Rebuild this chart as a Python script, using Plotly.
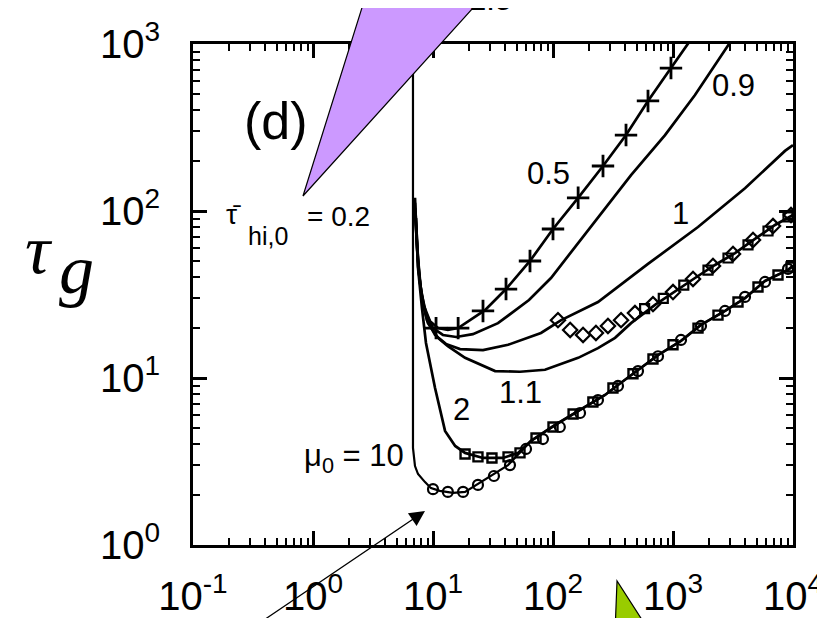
import plotly.graph_objects as go

# ---------------- data ----------------
# tau_hi,0 = 0.5 curve and its "+" markers
c05_x = [7.08, 7.36, 7.79, 8.41, 9.44, 11.0, 13.3, 16.2, 27.1, 40.6, 64.3, 100, 162, 261, 406, 619, 962, 1334, 1650]
c05_y = [120, 60.0, 37.1, 27.0, 21.9, 19.9, 19.4, 19.9, 25.5, 34.1, 50.2, 78.0, 120, 186, 285, 456, 718, 1000, 1250]
m05_x = [10.6, 16.2, 26.1, 40.6, 64.3, 100, 162, 261, 406, 619, 962]
m05_y = [19.9, 19.9, 25.2, 34.1, 50.2, 78.0, 120, 186, 285, 456, 718]

# 0.9 curve
c09_x = [7.08, 7.50, 7.94, 8.74, 10.0, 12.1, 15.6, 21.5, 34.8, 63.1, 96.2, 126, 237, 447, 858, 1525, 2929, 3831]
c09_y = [112, 52.3, 33.2, 24.5, 19.9, 18.1, 17.6, 18.3, 21.3, 29.3, 39.7, 50.9, 90.8, 164, 285, 495, 1000, 1282]

# 1 curve
c1_x = [7.08, 7.50, 8.09, 8.91, 10.4, 12.8, 16.8, 26.1, 42.2, 79.4, 117, 237, 619, 1616, 3981, 8577, 10000]
c1_y = [104, 46.9, 30.1, 22.2, 18.1, 16.0, 14.9, 14.7, 15.8, 18.6, 22.2, 28.5, 48.2, 80.2, 137, 229, 248]

# 1.1 curve
c11_x = [7.08, 7.64, 8.25, 9.08, 11.0, 13.3, 18.5, 32.9, 53.1, 85.8, 162, 237, 329, 447, 708, 1040, 1525, 2239, 3286, 4823, 7079, 10000]
c11_y = [97.3, 42.5, 27.4, 21.3, 17.4, 15.5, 13.2, 11.0, 10.9, 11.2, 13.2, 15.1, 17.4, 21.3, 27.4, 33.2, 39.7, 47.5, 56.0, 68.0, 82.5, 94.6]
# diamond markers and squares on the 1.1 band
md_x = [110, 139, 178, 228, 287, 369, 482, 681, 1000, 1468, 2154, 3162, 4642, 6813, 9624]
md_y = [22.2, 19.4, 18.1, 18.6, 20.5, 22.2, 24.5, 27.7, 32.7, 39.2, 46.9, 55.3, 67.1, 81.3, 94.6]
ms11_x = [580, 830, 1230, 1957, 2873, 4217, 6190, 9086]
ms11_y = [26.0, 30.0, 36.0, 44.3, 52.3, 62.6, 75.9, 92.1]

# 2 curve and squares
c2_x = [7.22, 7.50, 8.09, 8.74, 10.4, 12.6, 15.3, 18.5, 26.1, 38.3, 51.1, 65.6, 104, 162, 271, 348, 511, 750, 1166, 1711, 2712, 3981, 5843, 9086, 10000]
c2_y = [90.8, 45.6, 26.3, 16.2, 8.71, 4.82, 3.92, 3.56, 3.32, 3.32, 3.56, 4.20, 5.23, 6.34, 7.91, 9.08, 11.2, 13.7, 16.7, 20.8, 25.2, 30.1, 38.1, 44.4, 46.9]
ms2_x = [18.5, 23.7, 31.0, 42.2, 53.1, 72.2, 100, 147, 215, 316, 464, 681, 1000, 1616, 2371, 3481, 5109, 7499, 9624]
ms2_y = [3.51, 3.37, 3.32, 3.37, 3.56, 4.37, 5.09, 6.09, 7.18, 8.71, 10.6, 13.0, 15.8, 19.9, 23.8, 28.5, 35.1, 41.4, 46.2]

# mu_0 = 10 curve and circles
c10_x = [6.81, 6.81, 6.81, 7.08, 7.50, 8.58, 9.62, 11.4, 14.7, 18.5, 25.1, 42.2, 65.6, 104, 162, 271, 348, 511, 750, 1166, 1711, 2712, 3981, 5843, 9086, 10000]
c10_y = [1250, 1000, 3.81, 2.97, 2.66, 2.38, 2.19, 2.11, 2.05, 2.08, 2.38, 3.01, 4.20, 5.23, 6.34, 7.91, 9.08, 11.2, 13.7, 16.7, 20.8, 25.2, 30.1, 38.1, 44.4, 46.9]
mc_x = [10.0, 13.3, 17.8, 23.7, 32.2, 43.8, 59.6, 82.5, 114, 168, 237, 348, 511, 750, 1166, 1711, 2712, 3981, 5843, 9086]
mc_y = [2.16, 2.08, 2.08, 2.29, 2.59, 3.01, 3.76, 4.31, 5.09, 6.17, 7.38, 8.96, 11.0, 13.5, 16.9, 20.5, 25.2, 30.6, 37.6, 45.0]

x_tickvals = [0.1, 1, 10, 100, 1000, 10000]
x_ticktext = ["10<sup>-1</sup>", "10<sup>0</sup>", "10<sup>1</sup>", "10<sup>2</sup>", "10<sup>3</sup>", "10<sup>4</sup>"]
y_tickvals = [1, 10, 100, 1000]
y_ticktext = ["10<sup>0</sup>", "10<sup>1</sup>", "10<sup>2</sup>", "10<sup>3</sup>"]

x_minor = [k * 10.0 ** n for n in range(-1, 4) for k in range(2, 10)]
y_minor = [k * 10.0 ** n for n in range(0, 3) for k in range(2, 10)]

# ---------------- figure ----------------
fig = go.Figure()
LW = 2.7
K = "black"

def line(x, y, w=LW):
    fig.add_trace(go.Scatter(x=x, y=y, mode="lines", line=dict(color=K, width=w), hoverinfo="skip"))

def marks(x, y, sym, size, w=2):
    fig.add_trace(go.Scatter(x=x, y=y, mode="markers", cliponaxis=True,
                             marker=dict(symbol=sym, size=size, color=K, line=dict(color=K, width=w)),
                             hoverinfo="skip"))

line(c05_x, c05_y)
line(c09_x, c09_y)
line(c1_x, c1_y)
line(c11_x, c11_y)
line(c2_x, c2_y)
line(c10_x, c10_y, 2.2)

marks(m05_x, m05_y, "cross-thin-open", 16, 2.8)
marks(md_x, md_y, "diamond-open", 11, 2.2)
marks(ms11_x, ms11_y, "square-open", 9, 2.2)
marks(ms2_x, ms2_y, "square-open", 9, 2.4)
marks(mc_x, mc_y, "circle-open", 10, 2.2)

TF = dict(family="Liberation Sans", size=40, color=K)
axis_common = dict(type="log", showline=True, linewidth=3, linecolor=K, mirror="allticks",
                   ticks="inside", ticklen=14, tickwidth=2.5, tickcolor=K, showgrid=False,
                   tickfont=TF, automargin=False)

fig.update_xaxes(range=[-1, 4], tickmode="array", tickvals=x_tickvals, ticktext=x_ticktext,
                 minor=dict(ticks="inside", ticklen=7, tickwidth=2, tickcolor=K, tickvals=x_minor, showgrid=False),
                 ticklabelstandoff=14, **axis_common)
fig.update_yaxes(range=[0, 3], tickmode="array", tickvals=y_tickvals, ticktext=y_ticktext,
                 minor=dict(ticks="inside", ticklen=7, tickwidth=2, tickcolor=K, tickvals=y_minor, showgrid=False),
                 ticklabelstandoff=22, **axis_common)

ann = []
def txt(t, x, y, size=31, family="Liberation Sans", xanchor="center", yanchor="middle"):
    ann.append(dict(text=t, x=x, y=y, xref="paper", yref="paper", showarrow=False,
                    xanchor=xanchor, yanchor=yanchor,
                    font=dict(family=family, size=size, color=K)))

txt("(d)", 0.1383, 0.8463, size=52)
txt("\u03c4\u0304", 0.0683, 0.6587, size=28)
txt("hi,0", 0.125, 0.6167, size=25)
txt("= 0.2", 0.2417, 0.6555, size=28)
txt("0.5", 0.5933, 0.7425)
txt("0.9", 0.9, 0.9162)
txt("1", 0.8133, 0.6607)
txt("1.1", 0.545, 0.3034)
txt("2", 0.4483, 0.2695)
txt("\u03bc<sub>0</sub> = 10", 0.2683, 0.1737, size=31)
txt("1.5", 0.495, 1.05, size=31, yanchor="bottom")
txt("<i>\u03c4</i>", -0.2567, 0.589, size=70, family="Liberation Serif")
txt("<i>g</i>", -0.195, 0.549, size=70, family="Liberation Serif")

# arrow
ann.append(dict(x=0.3867, y=0.0679, xref="paper", yref="paper", text="", showarrow=True,
                ax=-170, ay=127, arrowhead=2, arrowsize=2.2, arrowwidth=1.4, arrowcolor=K))

shapes = [
    dict(type="path", xref="paper", yref="paper",
         path="M 0.2867 1.0918 L 0.4817 1.0918 L 0.1833 0.6966 Z",
         fillcolor="#CC99FF", line=dict(color=K, width=1.2), layer="above"),
    dict(type="path", xref="paper", yref="paper",
         path="M 0.7067 -0.0719 L 0.7033 -0.1756 L 0.7625 -0.1756 Z",
         fillcolor="#99CC00", line=dict(color=K, width=1.2), layer="above"),
]

fig.update_layout(width=825, height=618, margin=dict(l=185, r=40, t=36, b=81, autoexpand=False),
                  plot_bgcolor="white", paper_bgcolor="white", showlegend=False,
                  annotations=ann, shapes=shapes)

fig.write_html("out.html")
